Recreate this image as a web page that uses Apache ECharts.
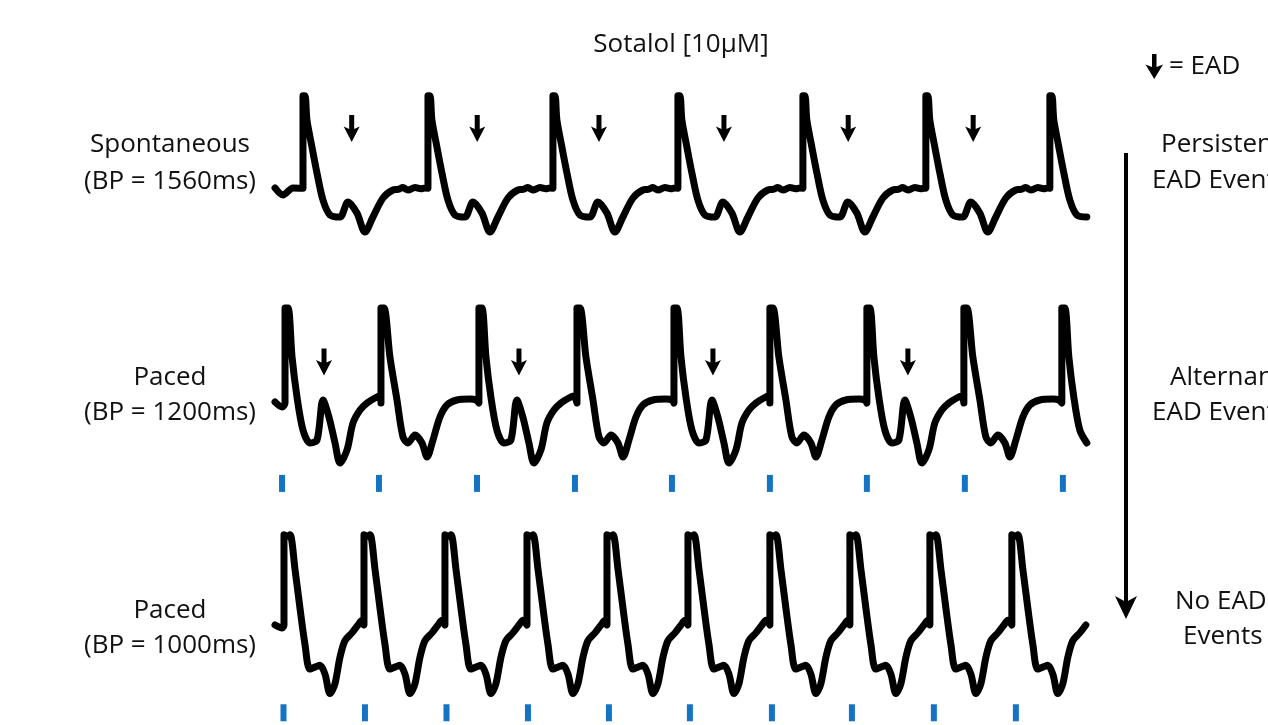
<!DOCTYPE html>
<html>
<head>
<meta charset="utf-8">
<script src="https://cdn.jsdelivr.net/npm/echarts@6/dist/echarts.min.js"></script>
<style>
  html, body { margin: 0; padding: 0; background: #fff; }
  #chart { width: 1268px; height: 725px; }
</style>
</head>
<body>
<div id="chart"></div>
<script>
// time in ms, membrane potential in mV

// spontaneous, BP = 1560ms
const leadTimes1 = [0, 99, 222];
const leadValues1 = [-45.8, -51.7, -45.8];
const beatTimes1 = [346, 1891, 3436, 4981, 6526, 8046, 9579];
const endTime1 = 10049;
const beat1Offsets = [0, 0, 25, 49, 111, 173, 247, 334, 457, 556, 667, 766, 865, 989, 1112, 1174, 1236, 1298, 1384, 1458, 1508];
const beat1Values = [-46, 31, 31, 10.8, -11.7, -33.3, -55.8, -68.3, -70, -57.5, -66.7, -82.5, -70, -54.2, -47.5, -47, -45.5, -47.5, -45.5, -46.5, -45.8];

// paced, BP = 1200ms (alternating EAD / no EAD)
const leadTimes2 = [0, 87];
const leadValues2 = [-49.2, -53.3];
const beatTimes2 = [124, 1310, 2521, 3733, 4932, 6118, 7317, 8516, 9727];
const beatKinds2 = ['ead', 'plain', 'ead', 'plain', 'ead', 'plain', 'ead', 'plain', 'ead'];
const endTime2 = 10036;
const eadBeatOffsets = [0, 0, 37, 87, 148, 222, 309, 396, 470, 544, 618, 680, 766, 840, 927, 1014, 1112, 1174];
const eadBeatValues = [-50, 29.2, 29.2, -11.7, -45, -72.5, -83.3, -80.8, -47.5, -62, -83.3, -100, -89.2, -66.7, -55.8, -50, -45.8, -44.2];
const plainBeatOffsets = [0, 0, 37, 111, 198, 272, 334, 420, 507, 569, 643, 729, 816, 939, 1100, 1174];
const plainBeatValues = [-50, 29.2, 29.2, -11.7, -47.5, -78.3, -83.3, -76.7, -83.3, -95, -80.8, -61.7, -51.7, -47.5, -46.7, -47.5];

// paced, BP = 1000ms
const leadTimes3 = [0, 87];
const leadValues3 = [-45, -47.5];
const beatTimes3 = [111, 1100, 2101, 3115, 4104, 5105, 6118, 7107, 8096, 9109];
const endTime3 = 10036;
const beat3Offsets = [0, 0, 37, 74, 136, 198, 260, 321, 408, 445, 507, 569, 630, 692, 754, 840, 915, 964];
const beat3Values = [-45, 31.7, 30.5, 31.7, 2.5, -30.8, -61.7, -82.5, -80, -79.2, -86.7, -103.3, -95, -72.5, -58.3, -51.7, -45, -41];

// pacing stimuli
const stimTimes2 = [87, 1285, 2497, 3708, 4907, 6118, 7317, 8528, 9740];
const stimLevel2 = -117;
const stimTimes3 = [105, 1112, 2120, 3127, 4128, 5129, 6143, 7132, 8145, 9159];
const stimLevel3 = -119.6;

// EAD markers
const eadArrowTimes1 = [948, 2500, 4005, 5550, 7086, 8631];
const eadArrowLevel1 = 3.75;
const eadArrowTimes2 = [606, 3016, 5414, 7824];
const eadArrowLevel2 = -15.8;

const rowLabels = [
    ['Spontaneous', '(BP = 1560ms)'],
    ['Paced', '(BP = 1200ms)'],
    ['Paced', '(BP = 1000ms)']
];

function buildTrace(leadT, leadV, onsets, shapeFor, endT) {
    let pts = [];
    for (let i = 0; i < leadT.length; i++) pts.push([leadT[i], leadV[i]]);
    onsets.forEach((t0, i) => {
        const shape = shapeFor(i);
        for (let k = 0; k < shape[0].length; k++) {
            const t = t0 + shape[0][k];
            if (t <= endT) pts.push([t, shape[1][k]]);
        }
    });
    return pts;
}

const trace1 = buildTrace(leadTimes1, leadValues1, beatTimes1, () => [beat1Offsets, beat1Values], endTime1);
const trace2 = buildTrace(leadTimes2, leadValues2, beatTimes2,
    i => beatKinds2[i] === 'ead' ? [eadBeatOffsets, eadBeatValues] : [plainBeatOffsets, plainBeatValues], endTime2);
const trace3 = buildTrace(leadTimes3, leadValues3, beatTimes3, () => [beat3Offsets, beat3Values], endTime3);

const FONT = '"Open Sans", sans-serif';
const arrowPath = 'path://M5.5,0 L10.5,0 L10.5,14 L16,11.5 L8,27 L0,11.5 L5.5,14 Z';
const gridTops = [85, 295, 525];

const traceLine = (data, idx) => ({
    type: 'line',
    xAxisIndex: idx,
    yAxisIndex: idx,
    data: data,
    showSymbol: false,
    silent: true,
    smooth: 0.3,
    lineStyle: { color: '#000', width: 7, join: 'round', cap: 'round' }
});

const marks = (times, level, idx, symbol, size, color) => ({
    type: 'scatter',
    xAxisIndex: idx,
    yAxisIndex: idx,
    data: times.map(t => [t, level]),
    symbol: symbol,
    symbolSize: size,
    silent: true,
    itemStyle: { color: color, opacity: 1 }
});

let graphics = [];
rowLabels.forEach((pair, i) => {
    const ys = [[145, 182], [378, 413], [611, 646]][i];
    pair.forEach((txt, j) => {
        graphics.push({
            type: 'text', x: 170, y: ys[j],
            style: { text: txt, font: '26px ' + FONT, fill: '#111', align: 'center', verticalAlign: 'middle' }
        });
    });
});
const sideTexts = [
    ['Persistent', 1161, 145], ['EAD Events', 1152, 181],
    ['Alternans', 1170, 378], ['EAD Events', 1152, 413],
    ['No EAD', 1175, 602], ['Events', 1183, 637]
];
sideTexts.forEach(s => {
    graphics.push({
        type: 'text', x: s[1], y: s[2],
        style: { text: s[0], font: '26px ' + FONT, fill: '#111', align: 'left', verticalAlign: 'middle' }
    });
});
graphics.push({
    type: 'text', x: 681, y: 45,
    style: { text: 'Sotalol [10μM]', font: '26px ' + FONT, fill: '#111', align: 'center', verticalAlign: 'middle' }
});
graphics.push({
    type: 'text', x: 1169, y: 67,
    style: { text: '= EAD', font: '26px ' + FONT, fill: '#111', align: 'left', verticalAlign: 'middle' }
});
// legend arrow
graphics.push({
    type: 'polygon',
    shape: { points: [[1152, 54], [1156.5, 54], [1156.5, 67], [1163, 64.5], [1154.25, 79], [1145.5, 64.5], [1152, 67]] },
    style: { fill: '#000' }
});
// long down arrow on the right
graphics.push({
    type: 'line',
    shape: { x1: 1126, y1: 153, x2: 1126, y2: 603 },
    style: { stroke: '#000', lineWidth: 4 }
});
graphics.push({
    type: 'polygon',
    shape: { points: [[1115, 596], [1126, 602], [1137, 596], [1126, 619]] },
    style: { fill: '#000' }
});

const option = {
    animation: false,
    backgroundColor: '#fff',
    grid: gridTops.map(t => ({ left: 275, width: 817, top: t, height: 204 })),
    xAxis: gridTops.map((t, i) => ({ type: 'value', gridIndex: i, min: 0, max: 10100, show: false })),
    yAxis: gridTops.map((t, i) => ({ type: 'value', gridIndex: i, min: -130, max: 40, show: false })),
    series: [
        traceLine(trace1, 0),
        traceLine(trace2, 1),
        traceLine(trace3, 2),
        marks(stimTimes2, stimLevel2, 1, 'rect', [6, 17], '#1473c2'),
        marks(stimTimes3, stimLevel3, 2, 'rect', [6, 17], '#1473c2'),
        marks(eadArrowTimes1, eadArrowLevel1, 0, arrowPath, [16, 27], '#000'),
        marks(eadArrowTimes2, eadArrowLevel2, 1, arrowPath, [16, 27], '#000')
    ],
    graphic: graphics
};

const chart = echarts.init(document.getElementById('chart'));
chart.setOption(option);
</script>
</body>
</html>
